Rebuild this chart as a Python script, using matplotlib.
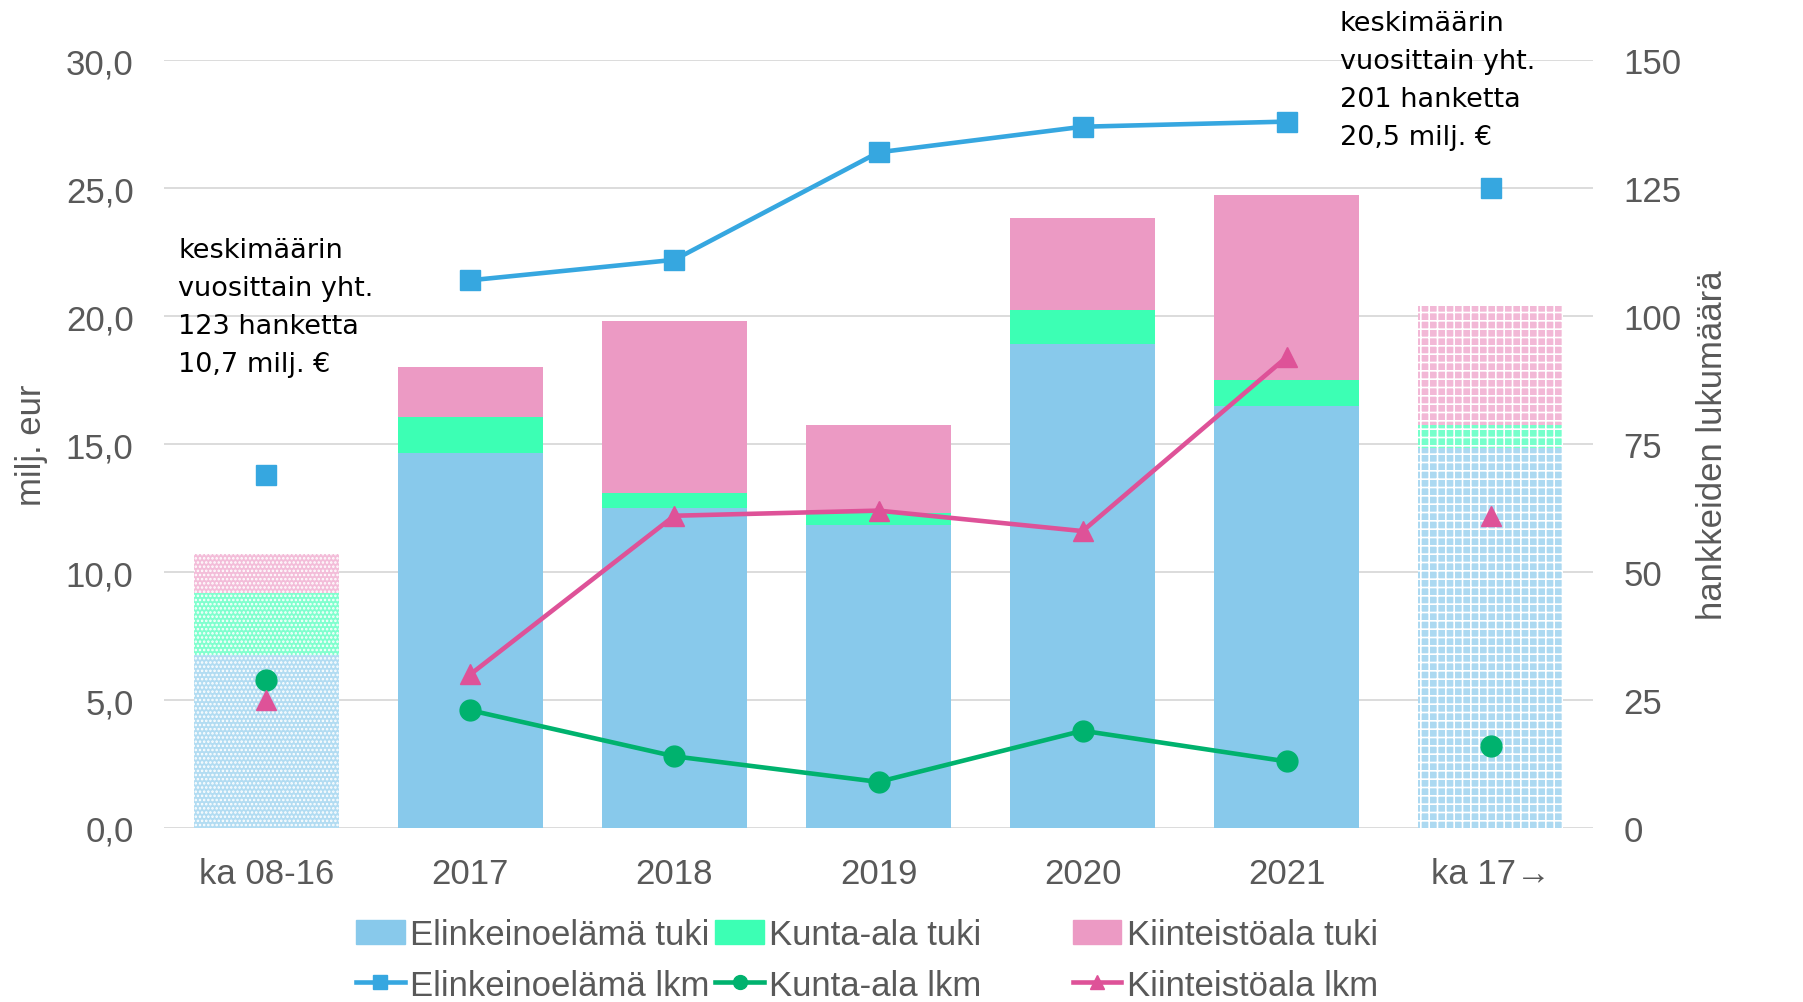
import numpy as np
import matplotlib.pyplot as plt
from matplotlib.colors import to_rgb
from matplotlib.lines import Line2D
from matplotlib.patches import Patch

# data
categories = ["ka 08-16", "2017", "2018", "2019", "2020", "2021", "ka 17\u2192"]
elink_tuki = [6.75, 14.65, 12.5, 11.85, 18.9, 16.5, 14.85]
kunta_tuki = [2.45, 1.4, 0.6, 0.45, 1.35, 1.0, 0.9]
kiint_tuki = [1.5, 1.95, 6.7, 3.45, 3.6, 7.25, 4.65]

elink_lkm = [69, 107, 111, 132, 137, 138, 125]
kunta_lkm = [29, 23, 14, 9, 19, 13, 16]
kiint_lkm = [25, 30, 61, 62, 58, 92, 61]

c_eb, c_kb, c_pb = "#88C9EB", "#3CFFB4", "#EC9AC4"
c_el, c_kl, c_pl = "#36A7E0", "#00B26E", "#DE5298"
grey = "#595959"

def light(c, f):
    r = np.array(to_rgb(c))
    return tuple(r + (1 - r) * f)

plt.rcParams['font.family'] = ['Liberation Sans', 'DejaVu Sans']
plt.rcParams['hatch.linewidth'] = 1.2

fig = plt.figure(figsize=(18.03, 10.03), dpi=100)
ax = fig.add_axes([0.091, 0.1735, 0.7925, 0.7655])
ax2 = ax.twinx()

x = np.arange(len(categories))
w = 0.71
bottoms = np.zeros(len(x))
for vals, col in [(elink_tuki, c_eb), (kunta_tuki, c_kb), (kiint_tuki, c_pb)]:
    vals = np.array(vals)
    for i in x:
        if i == 0:
            ax.bar(i, vals[i], w, bottom=bottoms[i], color=light(col, 0.35),
                   edgecolor="white", linewidth=0, hatch="....", zorder=2)
        elif i == len(x) - 1:
            ax.bar(i, vals[i], w, bottom=bottoms[i], color=light(col, 0.3),
                   edgecolor="white", linewidth=0, hatch="++", zorder=2)
        else:
            ax.bar(i, vals[i], w, bottom=bottoms[i], color=col, linewidth=0, zorder=2)
    bottoms += vals

ax.set_xlim(-0.5, len(x) - 0.5)
ax.set_ylim(0, 30)
ax.set_yticks(np.arange(0, 30.1, 5))
ax.set_yticklabels([f"{v:.1f}".replace(".", ",") for v in np.arange(0, 30.1, 5)])
ax.set_xticks(x)
ax.set_xticklabels(categories)
ax.grid(axis="y", color="#D9D9D9", linewidth=1.3, zorder=0)
ax.set_axisbelow(True)
for s in ax.spines.values():
    s.set_visible(False)
for s in ax2.spines.values():
    s.set_visible(False)
ax.tick_params(axis="y", length=0, labelsize=25, colors=grey, pad=22)
ax.tick_params(axis="x", length=0, labelsize=25, colors=grey, pad=21)
ax.set_ylabel("milj. eur", fontsize=25, color=grey, labelpad=13)

ax2.set_ylim(0, 150)
ax2.set_yticks(np.arange(0, 151, 25))
ax2.tick_params(length=0, labelsize=25, colors=grey, pad=22)
ax2.set_ylabel("hankkeiden lukumäärä", fontsize=25, color=grey, labelpad=10)

ms = 15
lw = 3.3
for vals, col, mk in [(elink_lkm, c_el, "s"), (kunta_lkm, c_kl, "o"), (kiint_lkm, c_pl, "^")]:
    ax2.plot(x[1:6], vals[1:6], color=col, linewidth=lw, marker=mk, markersize=ms, zorder=4)
    ax2.plot([x[0], x[6]], [vals[0], vals[6]], linestyle="none", color=col, marker=mk,
             markersize=ms, zorder=4)

ax.text(-0.43, 20.36, "keskimäärin\nvuosittain yht.\n123 hanketta\n10,7 milj. €",
        fontsize=19.5, family="DejaVu Sans", color="black", linespacing=1.6, va="center", zorder=5)
ax.text(5.26, 29.23, "keskimäärin\nvuosittain yht.\n201 hanketta\n20,5 milj. €",
        fontsize=19.5, family="DejaVu Sans", color="black", linespacing=1.6, va="center", zorder=5)

groups = [
    (Patch(color=c_eb), "Elinkeinoelämä tuki", c_el, "s", "Elinkeinoelämä lkm", 0.1975),
    (Patch(color=c_kb), "Kunta-ala tuki", c_kl, "o", "Kunta-ala lkm", 0.3967),
    (Patch(color=c_pb), "Kiinteistöala tuki", c_pl, "^", "Kiinteistöala lkm", 0.595),
]
for patch, lab1, lc, mk, lab2, xpos in groups:
    line = Line2D([], [], color=lc, lw=lw, marker=mk, markersize=10)
    leg = fig.legend([patch, line], [lab1, lab2], loc="center left",
                     bbox_to_anchor=(xpos, 0.042), frameon=False, fontsize=25,
                     handlelength=1.4, handletextpad=0.15, labelspacing=0.5,
                     borderpad=0, borderaxespad=0)
    for t in leg.get_texts():
        t.set_color(grey)

fig.savefig("out.png", dpi=100)
